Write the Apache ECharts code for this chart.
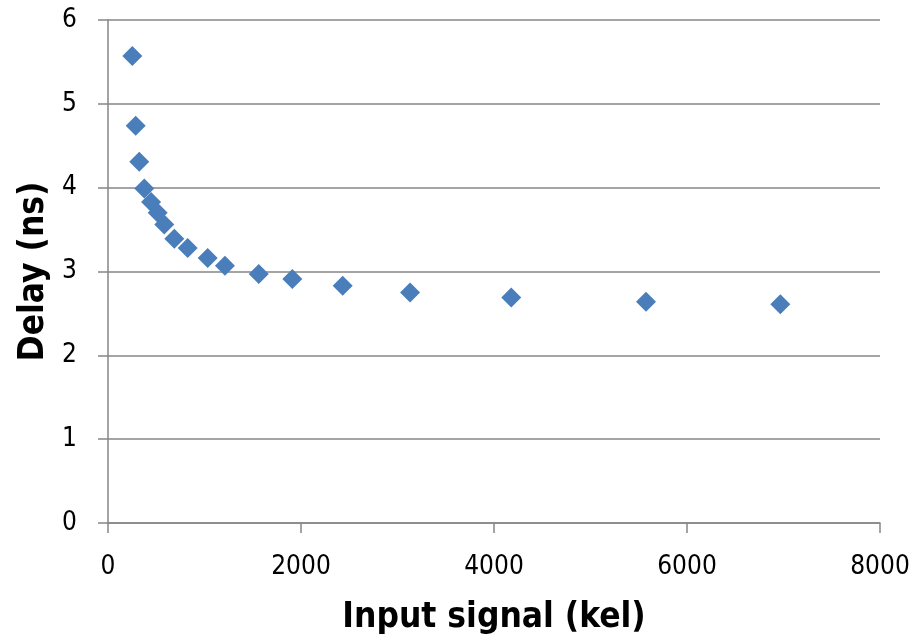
<!DOCTYPE html>
<html>
<head>
<meta charset="utf-8">
<script src="https://cdn.jsdelivr.net/npm/echarts@6/dist/echarts.min.js"></script>
<style>
  html, body { margin: 0; padding: 0; background: #fff; overflow: hidden; }
  #chart { width: 916px; height: 639px; }
</style>
</head>
<body>
<div id="chart"></div>
<script>
// Input signal (kel) for each measurement
const inputSignal = [252, 287, 324, 376, 446, 515, 583, 687, 826, 1033, 1212, 1562, 1910, 2432, 3130, 4179, 5575, 6967];
// Measured delay (ns)
const delayNs = [5.57, 4.74, 4.31, 3.99, 3.83, 3.70, 3.56, 3.39, 3.28, 3.16, 3.07, 2.97, 2.91, 2.83, 2.75, 2.69, 2.64, 2.61];

const points = inputSignal.map((x, i) => [x, delayNs[i]]);

const FONT = '"Liberation Sans Narrow", "DejaVu Sans Condensed", "Open Sans", sans-serif';
const axisGray = '#868686';

const chart = echarts.init(document.getElementById('chart'), null, { renderer: 'canvas', width: 916, height: 639 });
chart.setOption({
  animation: false,
  backgroundColor: '#ffffff',
  grid: { left: 108, right: 36, top: 20, bottom: 116, containLabel: false, outerBoundsMode: 'none' },
  xAxis: {
    type: 'value',
    min: 0, max: 8000, interval: 2000,
    name: 'Input signal (kel)',
    nameLocation: 'middle',
    nameGap: 77,
    nameTextStyle: { fontFamily: FONT, fontSize: 35, fontWeight: 'bold', color: '#000' },
    axisLine: { show: true, lineStyle: { color: axisGray, width: 1.5 } },
    axisTick: { show: true, inside: false, length: 10, lineStyle: { color: axisGray, width: 1.5 } },
    axisLabel: { fontFamily: FONT, fontSize: 26, color: '#000', margin: 31, formatter: v => String(v) },
    splitLine: { show: false }
  },
  yAxis: {
    type: 'value',
    min: 0, max: 6, interval: 1,
    name: 'Delay (ns)',
    nameLocation: 'middle',
    nameRotate: 90,
    nameGap: 56,
    nameTextStyle: { fontFamily: FONT, fontSize: 35, fontWeight: 'bold', color: '#000' },
    axisLine: { show: true, lineStyle: { color: axisGray, width: 1.5 } },
    axisTick: { show: true, inside: false, length: 10, lineStyle: { color: axisGray, width: 1.5 } },
    axisLabel: { fontFamily: FONT, fontSize: 26, color: '#000', margin: 31, formatter: v => String(v) },
    splitLine: { show: true, lineStyle: { color: axisGray, width: 1.5 } }
  },
  series: [{
    type: 'scatter',
    data: points,
    symbol: 'diamond',
    symbolSize: 20,
    itemStyle: { color: '#4A7EBB', opacity: 1 }
  }]
});
</script>
</body>
</html>
